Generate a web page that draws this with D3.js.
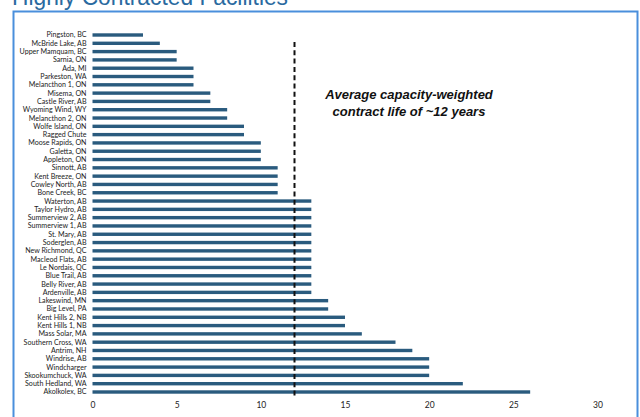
<!DOCTYPE html>
<html><head><meta charset="utf-8">
<script src="https://cdn.jsdelivr.net/npm/d3@7"></script>
<style>html,body{margin:0;padding:0;background:#fff;overflow:hidden}</style>
</head><body>
<svg id="c" width="640" height="417"></svg>
<script>
const facilities = ["Pingston, BC","McBride Lake, AB","Upper Mamquam, BC","Sarnia, ON","Ada, MI","Parkeston, WA","Melancthon 1, ON","Misema, ON","Castle River, AB","Wyoming Wind, WY","Melancthon 2, ON","Wolfe Island, ON","Ragged Chute","Moose Rapids, ON","Galetta, ON","Appleton, ON","Sinnott, AB","Kent Breeze, ON","Cowley North, AB","Bone Creek, BC","Waterton, AB","Taylor Hydro, AB","Summerview 2, AB","Summerview 1, AB","St. Mary, AB","Soderglen, AB","New Richmond, QC","Macleod Flats, AB","Le Nordais, QC","Blue Trail, AB","Belly River, AB","Ardenville, AB","Lakeswind, MN","Big Level, PA","Kent Hills 2, NB","Kent Hills 1, NB","Mass Solar, MA","Southern Cross, WA","Antrim, NH","Windrise, AB","Windcharger","Skookumchuck, WA","South Hedland, WA","Akolkolex, BC"];
const contractYears = [3,4,5,5,6,6,6,7,7,8,8,9,9,10,10,10,11,11,11,11,13,13,13,13,13,13,13,13,13,13,13,13,14,14,15,15,16,18,19,20,20,20,22,26];
const xTicks = [0,5,10,15,20,25,30];
const averageLife = 12;
const title = "Highly Contracted Facilities";
const noteLines = ["Average capacity-weighted","contract life of ~12 years"];

const svg = d3.select("#c");
const barColor = "#2a5b7e";

// frame
svg.append("path").attr("d","M13.5,420 V11.5 H637.5 V420")
  .attr("fill","none").attr("stroke","#4a8fdc").attr("stroke-width",2);
// title (clipped at top, as in the reference)
svg.append("text").attr("x",12).attr("y",4.5).text(title)
  .attr("font-family","Liberation Sans, Arial, sans-serif").attr("font-size",24)
  .attr("fill","#2a6aa0").attr("textLength",276).attr("lengthAdjust","spacingAndGlyphs");

const x = d3.scaleLinear().domain([0,30]).range([92.5,597.5]);
const y = d3.scalePoint().domain(facilities).range([35,392]);

svg.append("g").selectAll("rect").data(facilities).join("rect")
  .attr("x",x(0)).attr("y",d=>y(d)-1.7).attr("height",3.4)
  .attr("width",(d,i)=>x(contractYears[i])-x(0)).attr("fill",barColor);

svg.append("g").selectAll("text").data(facilities).join("text")
  .attr("x",86.5).attr("y",d=>y(d)).attr("dy","0.35em").attr("text-anchor","end")
  .attr("font-family","Lato, Carlito, sans-serif").attr("font-size",7.1).attr("fill","#222")
  .text(d=>d);

const axis = d3.axisBottom(x).tickValues(xTicks).tickSize(0).tickPadding(0);
const ag = svg.append("g").attr("transform","translate(0,402)").call(axis);
ag.select(".domain").remove();
ag.selectAll("text").attr("font-family","Lato, Carlito, sans-serif").attr("font-size",8.5).attr("fill","#222");

svg.append("line").attr("x1",x(averageLife)).attr("x2",x(averageLife))
  .attr("y1",42).attr("y2",396).attr("stroke","#111").attr("stroke-width",2)
  .attr("stroke-dasharray","5,3.3");

svg.append("g").selectAll("text").data(noteLines).join("text")
  .attr("x",409).attr("y",(d,i)=>99+i*17).attr("text-anchor","middle")
  .attr("font-family","Liberation Sans, Arial, sans-serif").attr("font-size",13)
  .attr("font-weight","bold").attr("font-style","italic").attr("fill","#111")
  .text(d=>d);
</script>
</body></html>
